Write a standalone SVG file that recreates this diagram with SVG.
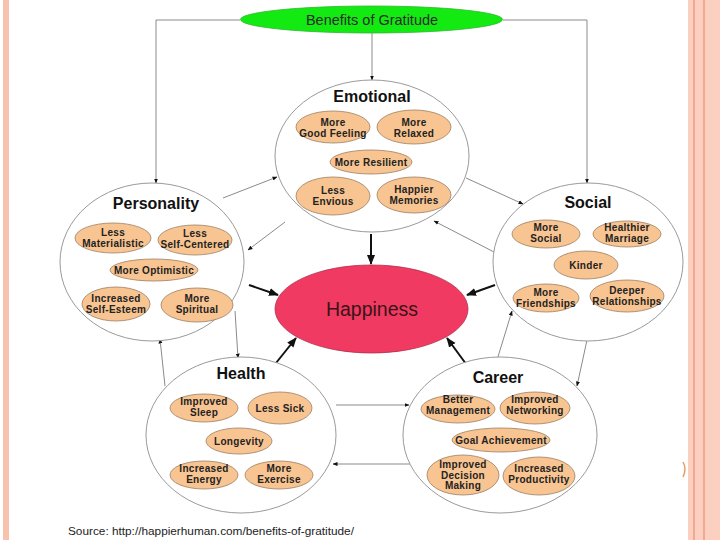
<svg xmlns="http://www.w3.org/2000/svg" width="720" height="540" viewBox="0 0 720 540">
<defs>
<marker id="sm" viewBox="0 0 10 10" refX="9" refY="5" markerWidth="5" markerHeight="5" orient="auto" markerUnits="userSpaceOnUse"><path d="M0,1 L10,5 L0,9 z" fill="#111"/></marker>
<marker id="big" viewBox="0 0 10 10" refX="9" refY="5" markerWidth="10" markerHeight="10" orient="auto" markerUnits="userSpaceOnUse"><path d="M0,1 L10,5 L0,9 z" fill="#111"/></marker>
</defs>
<style>
.grp{fill:#fff;stroke:#9a9a9a;stroke-width:1}
.sub{fill:#f8c491;stroke:#9c7f63;stroke-width:0.8}
.st{font-family:"Liberation Sans",Arial,sans-serif;font-size:10px;font-weight:bold;fill:#222;text-anchor:middle;letter-spacing:0.3px}
.gt{font-family:"Liberation Sans",Arial,sans-serif;font-size:16px;font-weight:bold;fill:#111;text-anchor:middle}
.thin{fill:none;stroke:#8a8a8a;stroke-width:1;marker-end:url(#sm)}
.thick{fill:none;stroke:#111;stroke-width:2;marker-end:url(#big)}
</style>
<rect width="720" height="540" fill="#fff"/>
<rect x="3" y="0" width="6" height="540" fill="#f7c3ae"/>
<rect x="688" y="0" width="32" height="540" fill="#fbd0c0"/>
<rect x="693" y="0" width="2" height="540" fill="#f2a98e"/>
<rect x="703" y="0" width="2" height="540" fill="#f2a98e"/>
<path d="M683,462 Q687,469 683,477" fill="none" stroke="#e89a60" stroke-width="1.5"/>

<g id="connectors">
<polyline class="thin" points="240,20 156,20 156,183"/>
<polyline class="thin" points="503,20 587,20 587,183"/>
<line class="thin" x1="372" y1="33" x2="372" y2="80"/>
<line class="thin" x1="223" y1="198" x2="277" y2="177"/>
<line class="thin" x1="285" y1="222" x2="248" y2="250"/>
<line class="thin" x1="466" y1="178" x2="523" y2="204"/>
<line class="thin" x1="494" y1="252" x2="434" y2="221"/>
<line class="thin" x1="165" y1="386" x2="160" y2="339"/>
<line class="thin" x1="235" y1="311" x2="238" y2="358"/>
<line class="thin" x1="336" y1="405" x2="409" y2="405"/>
<line class="thin" x1="410" y1="464" x2="333" y2="464"/>
<line class="thin" x1="587" y1="340" x2="577" y2="386"/>
<line class="thin" x1="497" y1="360" x2="512" y2="311"/>
<line class="thick" x1="371" y1="234" x2="371" y2="264"/>
<line class="thick" x1="249" y1="285" x2="278" y2="295"/>
<line class="thick" x1="495" y1="285" x2="467" y2="295"/>
<line class="thick" x1="272" y1="368" x2="296" y2="338"/>
<line class="thick" x1="469" y1="368" x2="447" y2="338"/>
</g>

<g id="title">
<ellipse cx="371.5" cy="19.5" rx="131" ry="13.5" fill="#12ea12" stroke="#2fb82f" stroke-width="0.8"/>
<text x="372" y="24.5" font-family="'Liberation Sans',Arial,sans-serif" font-size="14.5" fill="#2a2a2a" text-anchor="middle">Benefits of Gratitude</text>
</g>

<g id="happiness">
<ellipse cx="371.5" cy="309" rx="96.5" ry="44" fill="#f03a61" stroke="#b03050" stroke-width="0.8"/>
<text x="372" y="316" font-family="'Liberation Sans',Arial,sans-serif" font-size="19.5" fill="#3a1418" text-anchor="middle">Happiness</text>
</g>

<g id="emotional">
<ellipse class="grp" cx="372" cy="156" rx="97" ry="76"/>
<text class="gt" x="372" y="102">Emotional</text>
<ellipse class="sub" cx="333" cy="127" rx="37" ry="16"/>
<text class="st" x="333" y="126">More</text><text class="st" x="333" y="136.5">Good Feeling</text>
<ellipse class="sub" cx="414" cy="127" rx="37" ry="17"/>
<text class="st" x="414" y="126">More</text><text class="st" x="414" y="136.5">Relaxed</text>
<ellipse class="sub" cx="371" cy="162" rx="41" ry="12"/>
<text class="st" x="371" y="165.5">More Resilient</text>
<ellipse class="sub" cx="333" cy="196" rx="37" ry="19"/>
<text class="st" x="333" y="194">Less</text><text class="st" x="333" y="205">Envious</text>
<ellipse class="sub" cx="414" cy="195" rx="37" ry="18"/>
<text class="st" x="414" y="193">Happier</text><text class="st" x="414" y="204">Memories</text>
</g>

<g id="personality">
<ellipse class="grp" cx="152" cy="262" rx="92" ry="79"/>
<text class="gt" x="156" y="209">Personality</text>
<ellipse class="sub" cx="113" cy="238" rx="38" ry="15"/>
<text class="st" x="113" y="236">Less</text><text class="st" x="113" y="246.5">Materialistic</text>
<ellipse class="sub" cx="195" cy="240" rx="37" ry="15"/>
<text class="st" x="195" y="237">Less</text><text class="st" x="195" y="247.5">Self-Centered</text>
<ellipse class="sub" cx="154" cy="270" rx="44" ry="11"/>
<text class="st" x="154" y="273.5">More Optimistic</text>
<ellipse class="sub" cx="116" cy="304" rx="34" ry="17"/>
<text class="st" x="116" y="302">Increased</text><text class="st" x="116" y="312.5">Self-Esteem</text>
<ellipse class="sub" cx="197" cy="305" rx="36" ry="17"/>
<text class="st" x="197" y="302">More</text><text class="st" x="197" y="313">Spiritual</text>
</g>

<g id="social">
<ellipse class="grp" cx="588" cy="262" rx="95" ry="79"/>
<text class="gt" x="588" y="208">Social</text>
<ellipse class="sub" cx="546" cy="234" rx="34" ry="14"/>
<text class="st" x="546" y="231">More</text><text class="st" x="546" y="242">Social</text>
<ellipse class="sub" cx="627" cy="234" rx="34" ry="13"/>
<text class="st" x="627" y="231">Healthier</text><text class="st" x="627" y="242">Marriage</text>
<ellipse class="sub" cx="586" cy="265" rx="32" ry="14"/>
<text class="st" x="586" y="268.5">Kinder</text>
<ellipse class="sub" cx="546" cy="298" rx="33" ry="14"/>
<text class="st" x="546" y="296">More</text><text class="st" x="546" y="307">Friendships</text>
<ellipse class="sub" cx="627" cy="296" rx="37" ry="16"/>
<text class="st" x="627" y="294">Deeper</text><text class="st" x="627" y="305">Relationships</text>
</g>

<g id="health">
<ellipse class="grp" cx="241" cy="435" rx="95" ry="78"/>
<text class="gt" x="241" y="379">Health</text>
<ellipse class="sub" cx="204" cy="408" rx="34" ry="14"/>
<text class="st" x="204" y="405">Improved</text><text class="st" x="204" y="416">Sleep</text>
<ellipse class="sub" cx="280" cy="408" rx="32" ry="16"/>
<text class="st" x="280" y="411.5">Less Sick</text>
<ellipse class="sub" cx="239" cy="441" rx="33" ry="13"/>
<text class="st" x="239" y="444.5">Longevity</text>
<ellipse class="sub" cx="204" cy="475" rx="34" ry="14"/>
<text class="st" x="204" y="472">Increased</text><text class="st" x="204" y="483">Energy</text>
<ellipse class="sub" cx="279" cy="475" rx="34" ry="14"/>
<text class="st" x="279" y="472">More</text><text class="st" x="279" y="483">Exercise</text>
</g>

<g id="career">
<ellipse class="grp" cx="500" cy="435" rx="97" ry="78"/>
<text class="gt" x="498" y="383">Career</text>
<ellipse class="sub" cx="458" cy="409" rx="37" ry="14"/>
<text class="st" x="458" y="402.5">Better</text><text class="st" x="458" y="413.5">Management</text>
<ellipse class="sub" cx="535" cy="408" rx="35" ry="16"/>
<text class="st" x="535" y="402.5">Improved</text><text class="st" x="535" y="413.5">Networking</text>
<ellipse class="sub" cx="501" cy="440" rx="49" ry="12"/>
<text class="st" x="501" y="443.5">Goal Achievement</text>
<ellipse class="sub" cx="463" cy="475" rx="36" ry="20"/>
<text class="st" x="463" y="468">Improved</text><text class="st" x="463" y="478.5">Decision</text><text class="st" x="463" y="489">Making</text>
<ellipse class="sub" cx="539" cy="476" rx="36" ry="19"/>
<text class="st" x="539" y="472">Increased</text><text class="st" x="539" y="483">Productivity</text>
</g>

<text x="68" y="535" font-family="'Liberation Sans',Arial,sans-serif" font-size="11.8" fill="#222">Source: http://happierhuman.com/benefits-of-gratitude/</text>
</svg>
